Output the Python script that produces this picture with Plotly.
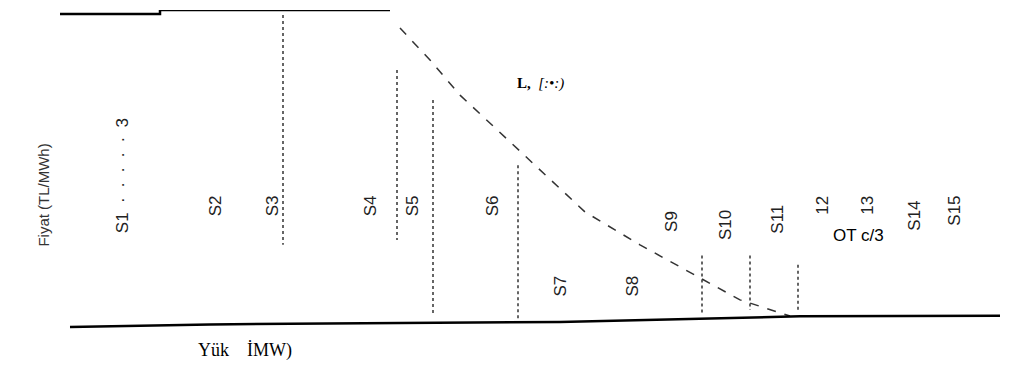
import plotly.graph_objects as go

# ---- data (x: load in MW, y: price index) ----
top_x = [0, 1000, 1000, 3300]
top_y = [98.7, 98.7, 100, 100]

slope_x = [3400, 3700, 4000, 4350, 4800, 5250, 5800, 6400, 6800, 7300]
slope_y = [94.2, 83.9, 72.6, 62.0, 48.5, 35.0, 24.4, 13.7, 6.7, 1.5]

base_x = [100, 1500, 5000, 7400, 9530]
base_y = [-2.0, -1.2, -0.4, 1.4, 1.6]

vline_x = [2230, 3370, 3730, 4580, 6420, 6900, 7380]
vline_top = [98.4, 80.7, 71.0, 50.0, 21.0, 21.0, 18.0]
vline_bot = [24.4, 26.0, 1.8, 0.2, 1.8, 3.4, 2.8]

label_text = ["S1  ·  ·  ·  ·  ·  3", "S2", "S3", "S4", "S5", "S6", "S7", "S8", "S9",
              "S10", "S11", "12", "13", "S14", "S15"]
label_x = [620, 1550, 2120, 3100, 3520, 4320, 5000, 5720, 6120, 6660, 7180, 7630, 8080, 8550, 8950]
label_y = [46.5, 36.8, 36.8, 36.8, 36.8, 36.8, 11.0, 11.0, 31.8, 30.8, 32.5, 37.0, 37.0, 33.8, 35.4]

fig = go.Figure()

fig.add_trace(go.Scatter(x=top_x, y=top_y, mode="lines",
                         line=dict(color="black", width=2.5), hoverinfo="skip"))
fig.add_trace(go.Scatter(x=slope_x, y=slope_y, mode="lines",
                         line=dict(color="#333333", width=1.5, dash="dash"), hoverinfo="skip"))
fig.add_trace(go.Scatter(x=base_x, y=base_y, mode="lines", cliponaxis=False,
                         line=dict(color="black", width=2.5), hoverinfo="skip"))

vx, vy = [], []
for x, t, b in zip(vline_x, vline_top, vline_bot):
    vx += [x, x, None]
    vy += [t, b, None]
fig.add_trace(go.Scatter(x=vx, y=vy, mode="lines",
                         line=dict(color="#333333", width=1.5, dash="dot"), hoverinfo="skip"))

for t, x, y in zip(label_text, label_x, label_y):
    fig.add_annotation(x=x, y=y, text=t, showarrow=False, textangle=-90,
                       font=dict(family="Liberation Sans, Arial", size=17, color="#222222"))

fig.add_annotation(x=7980, y=27.5, text="OT c/3", showarrow=False,
                   font=dict(family="Liberation Sans, Arial", size=17, color="black"))
fig.add_annotation(x=4800, y=76.5, text="<b>L,</b>  <i>[:•:)</i>", showarrow=False,
                   font=dict(family="Liberation Serif, Times New Roman", size=15, color="black"))

# page body adds an 8px margin, so the figure is shifted back by it
fig.update_layout(
    width=1005, height=357,
    margin=dict(l=52, r=13, t=2, b=35),
    paper_bgcolor="white", plot_bgcolor="white",
    showlegend=False,
    xaxis=dict(range=[0, 9400], visible=False),
    yaxis=dict(range=[-3, 100], visible=False),
)

fig.add_annotation(xref="paper", yref="paper", x=0.197, y=-0.103,
                   xanchor="center", yanchor="bottom",
                   text="Yük    İMW)", showarrow=False,
                   font=dict(family="Liberation Serif, Times New Roman", size=18, color="black"))
fig.add_annotation(xref="paper", yref="paper", x=-0.017, y=0.42,
                   xanchor="center", yanchor="middle",
                   text="Fiyat (TL/MWh)", showarrow=False, textangle=-90,
                   font=dict(family="Liberation Sans, Arial", size=15, color="#333333"))

fig.write_html("out.html")
